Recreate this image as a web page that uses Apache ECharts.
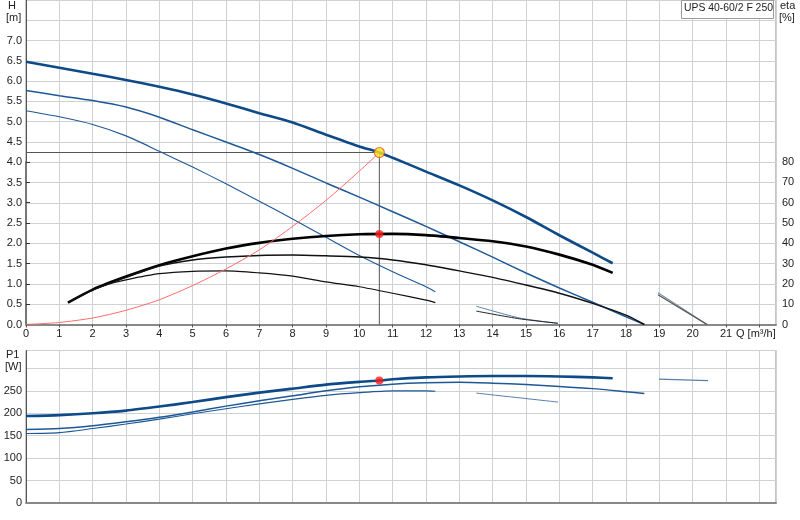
<!DOCTYPE html>
<html><head><meta charset="utf-8">
<script src="https://cdn.jsdelivr.net/npm/echarts@6/dist/echarts.min.js"></script>
<style>html,body{margin:0;padding:0;background:#fff}#c{width:800px;height:520px}</style>
</head><body><div id="c"></div>
<script>
// ---- data (Q in m³/h) ----
const qH3 = [0,1,2,3,4,5,6,7,8,9,10,10.6,11,12,13,14,15,16,17,17.6];
const h3  = [6.48,6.33,6.18,6.03,5.86,5.67,5.45,5.21,4.98,4.68,4.39,4.24,4.11,3.77,3.43,3.06,2.65,2.2,1.77,1.51];
const qH2 = [0,1,2,3,4,5,6,7,8,9,10,11,12,13,14,15,16,17,18,18.55];
const h2  = [5.77,5.64,5.52,5.36,5.11,4.80,4.50,4.19,3.85,3.49,3.14,2.78,2.42,2.04,1.66,1.27,0.90,0.55,0.19,0];
const qH1 = [0,1,2,3,4,5,6,7,8,9,10,11,12,12.28];
const h1  = [5.27,5.12,4.93,4.65,4.27,3.88,3.47,3.04,2.6,2.15,1.70,1.30,0.93,0.81];
const qSys = [0,1,2,3,4,5,6,7,8,9,10,10.6];
const hSys = [0,0.05,0.16,0.35,0.61,0.96,1.37,1.84,2.42,3.06,3.78,4.24];
const qEta3 = [1.26,2,3,4,5,6,7,8,9,10,11,12,13,14,15,16,17,17.6];
const eta3  = [10.8,17.2,23.6,29.2,33.6,37.4,40.2,42.2,43.6,44.4,44.6,44,42.6,41,38.4,34.4,29.4,25.4];
const qEta2 = [1.26,2,3,4,5,6,7,8,9,10,11,12,13,14,15,16,17,18,18.55];
const eta2  = [10.8,17,23.2,28.8,31.8,33.2,34,34.2,33.8,33.2,31.8,29.4,26.4,23.2,19.4,15.4,10.4,4.6,0];
const qEta1 = [1.26,2,2.5,3,4,5,6,7,8,9,10,11,12,12.28];
const eta1  = [10.8,17,20,22,25,26.2,26.4,25.4,23.8,21,18.6,15.4,12,10.8];
const qSegA = [13.51,14.81,15.96];
const hSegA = [0.45,0.16,0.03];
const etaSegA = [6.6,2.8,0.6];
const qSegB = [18.96,20.43];
const hSegB = [0.78,0];
const etaSegB = [14.6,0];
const qP3 = [0,1,2,3,4,5,6,7,8,9,10,10.6,11,12,13,14,15,16,17,17.6];
const p3  = [194,196,200,206,215,225,236,246,255,264,270,273,276,280,282,283,283,282,280,278];
const qP2 = [0,1,2,3,4,5,6,7,8,9,10,11,12,13,14,15,16,17,18,18.55];
const p2  = [164,166,172,181,191,203,216,228,239,250,259,265,268,269,267,264,260,255,248,244];
const qP1 = [0,1,2,3,4,5,6,7,8,9,10,11,12,12.28];
const p1  = [155,157,166,176,187,199,210,221,231,240,246,250,250,249];
const qPSegA = [13.51,15.96];
const pSegA = [245,225];
const qPSegB = [18.99,20.46];
const pSegB = [276,273];
const dutyQ = 10.6, dutyH = 4.24, dutyEta = 44.6, dutyP = 273;
const hTicks = {min:0, max:8, interval:0.5, lastLabel:7};
const pTicks = {min:0, max:340, interval:50, lastLabel:250};
const etaTicks = {min:0, max:80, interval:10};
const qTicks = {min:0, max:22.5, interval:1, lastLabel:21};

const pair = (q, v) => q.map((x, i) => [x, v[i]]);
const FONT = 'Liberation Sans';
const BLUE = '#0d4a87', BLUE2 = '#1e5896';

function ln(name, q, v, color, width, xi, yi, extra) {
  return Object.assign({
    name, type: 'line', xAxisIndex: xi, yAxisIndex: yi, data: pair(q, v),
    showSymbol: false, symbol: 'none', smooth: 0.25,
    lineStyle: {color, width}, silent: true, animation: false, z: 3
  }, extra || {});
}

const chart = echarts.init(document.getElementById('c'), null, {renderer: 'canvas'});
const splitX = {show: true, lineStyle: {color: '#cdd1d4', width: 1}};
const splitY = {show: true, lineStyle: {color: '#cdd1d4', width: 1}};
const lab = {fontFamily: FONT, fontSize: 11, color: '#222'};

chart.setOption({
  animation: false,
  grid: [
    {left: 26, right: 24, top: 0, bottom: 195.5, show: true, borderColor: '#8a8a8a', borderWidth: 1, containLabel: false},
    {left: 26, right: 24, top: 162, bottom: 195.5, containLabel: false},
    {left: 26, right: 24, top: 350.5, bottom: 17, show: true, borderColor: '#8a8a8a', borderWidth: 1, containLabel: false}
  ],
  xAxis: [
    {gridIndex: 0, type: 'value', min: qTicks.min, max: qTicks.max, interval: qTicks.interval,
     axisLine: {show: true, lineStyle: {color: '#888', width: 2}},
     axisTick: {show: true, length: 3, lineStyle: {color: '#555'}},
     axisLabel: Object.assign({margin: 4, showMaxLabel: false,
       formatter: v => (Number.isInteger(v) && v <= qTicks.lastLabel) ? String(v) : ''}, lab),
     splitLine: splitX},
    {gridIndex: 1, type: 'value', min: qTicks.min, max: qTicks.max, interval: qTicks.interval, show: false},
    {gridIndex: 2, type: 'value', min: qTicks.min, max: qTicks.max, interval: qTicks.interval,
     axisLine: {show: true, lineStyle: {color: '#888', width: 2}},
     axisTick: {show: false}, axisLabel: {show: false}, splitLine: splitX}
  ],
  yAxis: [
    {gridIndex: 0, type: 'value', min: hTicks.min, max: hTicks.max, interval: hTicks.interval,
     axisLine: {show: true, lineStyle: {color: '#555', width: 1}}, axisTick: {show: false},
     axisLabel: Object.assign({margin: 4, formatter: v => v <= hTicks.lastLabel + 1e-9 ? v.toFixed(1) : ''}, lab),
     splitLine: splitY},
    {gridIndex: 1, type: 'value', position: 'right', min: etaTicks.min, max: etaTicks.max, interval: etaTicks.interval,
     axisLine: {show: true, lineStyle: {color: '#777', width: 2}},
     axisTick: {show: true, length: 4, lineStyle: {color: '#333'}},
     axisLabel: Object.assign({margin: 6}, lab), splitLine: {show: false}},
    {gridIndex: 2, type: 'value', min: pTicks.min, max: pTicks.max, interval: pTicks.interval,
     axisLine: {show: true, lineStyle: {color: '#555', width: 1}}, axisTick: {show: false},
     axisLabel: Object.assign({margin: 4, showMaxLabel: false, formatter: v => v <= pTicks.lastLabel ? String(v) : ''}, lab),
     splitLine: splitY}
  ],
  series: [
    ln('H3', qH3, h3, BLUE, 2.6, 0, 0),
    ln('H2', qH2, h2, BLUE2, 1.5, 0, 0),
    ln('H1', qH1, h1, BLUE2, 1.1, 0, 0),
    ln('system', qSys, hSys, '#ff6a6a', 1, 0, 0, {z: 4}),
    ln('segA H', qSegA, hSegA, '#5b7ea8', 1, 0, 0),
    ln('segB H', qSegB, hSegB, '#7d8fa6', 1.2, 0, 0),
    ln('eta3', qEta3, eta3, '#000', 2.6, 1, 1),
    ln('eta2', qEta2, eta2, '#111', 1.5, 1, 1),
    ln('eta1', qEta1, eta1, '#111', 1.2, 1, 1),
    ln('segA eta', qSegA, etaSegA, '#222', 1, 1, 1),
    ln('segB eta', qSegB, etaSegB, '#555', 1.2, 1, 1),
    {type: 'line', xAxisIndex: 0, yAxisIndex: 0, data: [[0, dutyH], [dutyQ, dutyH], [dutyQ, 0]],
     showSymbol: false, symbol: 'none', lineStyle: {color: '#555', width: 1}, silent: true, z: 2},
    {type: 'scatter', xAxisIndex: 0, yAxisIndex: 0, data: [[dutyQ, dutyH]], symbolSize: 10,
     itemStyle: {color: '#f6e41c', borderColor: '#e2562a', borderWidth: 1.2}, silent: true, z: 10},
    {type: 'scatter', xAxisIndex: 1, yAxisIndex: 1, data: [[dutyQ, dutyEta]], symbolSize: 8,
     itemStyle: {color: '#ff1a1a'}, silent: true, z: 10},
    ln('P3', qP3, p3, BLUE, 2.6, 2, 2),
    ln('P2', qP2, p2, BLUE2, 1.5, 2, 2),
    ln('P1', qP1, p1, BLUE2, 1.1, 2, 2),
    ln('P segA', qPSegA, pSegA, '#5b7ea8', 1, 2, 2),
    ln('P segB', qPSegB, pSegB, '#5b7ea8', 1.2, 2, 2),
    {type: 'scatter', xAxisIndex: 2, yAxisIndex: 2, data: [[dutyQ, dutyP]], symbolSize: 8,
     itemStyle: {color: '#ff1a1a'}, silent: true, z: 10}
  ],
  graphic: [
    {type: 'text', left: 8, top: 0, style: {text: 'H', font: '11px ' + FONT, fill: '#222'}},
    {type: 'text', left: 6, top: 12, style: {text: '[m]', font: '11px ' + FONT, fill: '#222'}},
    {type: 'text', left: 780, top: 0, style: {text: 'eta', font: '11px ' + FONT, fill: '#222'}},
    {type: 'text', left: 779, top: 12, style: {text: '[%]', font: '11px ' + FONT, fill: '#222'}},
    {type: 'text', left: 6, top: 349, style: {text: 'P1', font: '11px ' + FONT, fill: '#222'}},
    {type: 'text', left: 5, top: 361, style: {text: '[W]', font: '11px ' + FONT, fill: '#222'}},
    {type: 'text', left: 736, top: 328, style: {text: 'Q [m³/h]', font: '11px ' + FONT, fill: '#222'}},
    {type: 'rect', shape: {x: 681.5, y: 0.5, width: 92, height: 18}, style: {fill: '#fff', stroke: '#999', lineWidth: 1}, z: 20},
    {type: 'text', left: 684, top: 3.5, z: 21, style: {text: 'UPS 40-60/2 F 250', font: '10.4px ' + FONT, fill: '#222'}}
  ]
});
</script></body></html>
